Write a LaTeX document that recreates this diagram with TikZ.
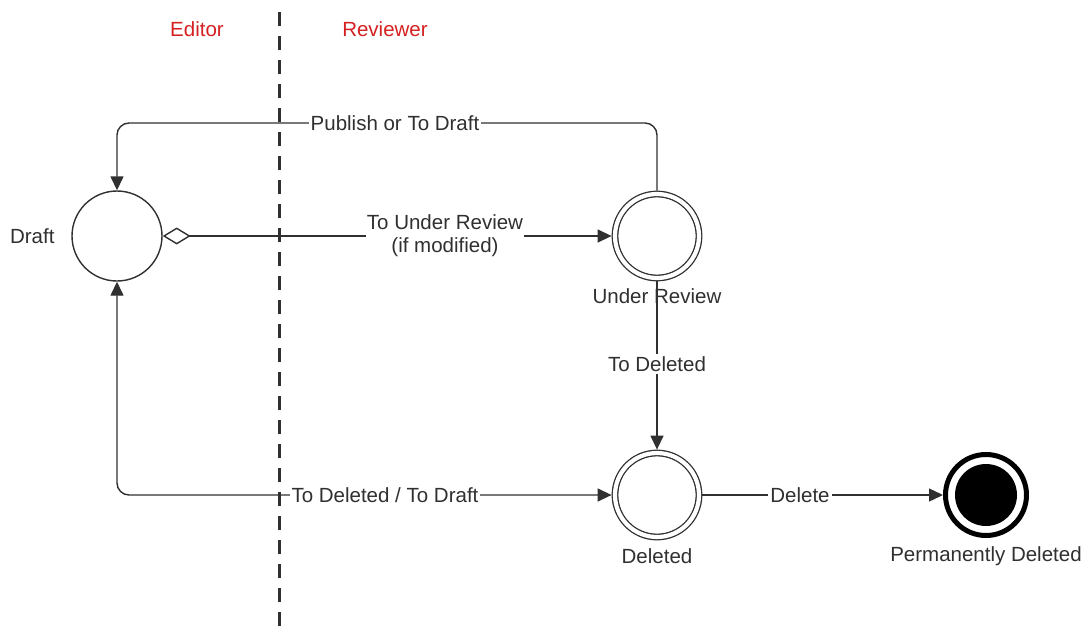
\documentclass[tikz,border=0pt]{standalone}
\usepackage{fontspec}
\setmainfont{Liberation Sans}
\usetikzlibrary{arrows.meta}
\definecolor{ink}{HTML}{303030}
\definecolor{lane}{HTML}{D42020}
\tikzset{
  every node/.style={font=\fontsize{20.5}{24}\selectfont, text=ink},
  state/.style={circle, draw=ink, line width=1.4pt, minimum size=90pt, inner sep=0pt, outer sep=0.7pt},
  dstate/.style={circle, draw=ink, line width=1.3pt, double, double distance=4.2pt, minimum size=84pt, inner sep=0pt, outer sep=3.4pt},
  tip/.style={Triangle[length=14pt,width=13pt]},
  edge/.style={draw=ink, line width=1.4pt, -{Triangle[length=14pt,width=13pt]}},
  lbl/.style={fill=white, inner sep=2pt},
  lanelbl/.style={text=lane},
  lanesep/.style={draw=ink, line width=3pt, dash pattern=on 14pt off 10pt}
}
\begin{document}
\begin{tikzpicture}[x=1pt,y=-1pt]
\useasboundingbox (0,0) rectangle (1088,627);
% swimlane
\coordinate (lt) at (279,12);
\coordinate (lb) at (279,627);
\draw[lanesep] (lt) -- (lb);
\node[lanelbl] (editor) at (197,29) {Editor};
\node[lanelbl] (reviewer) at (385,29) {Reviewer};
% states
\node[state] (draft) at (117,236) {};
\node[anchor=east] (draftl) at (58,236) {Draft};
\node[dstate] (ur) at (657,236) {};
\node (url) at (657,296) {Under Review};
\node[dstate] (del) at (657,495) {};
\node (dell) at (657,556) {Deleted};
\node[circle, draw=black, line width=5pt, minimum size=81pt, inner sep=0pt, outer sep=2.5pt] (perm) at (986,495) {};
\node[circle, fill=black, minimum size=62pt, inner sep=0pt] (permin) at (perm.center) {};
\node (perml) at (986,556) {Permanently Deleted};
% edges
\draw[edge, rounded corners=12pt] (ur.north) -- (ur.north |- 0,123) -- (draft.north |- 0,123) -- (draft.north);
\node[lbl] (l1) at (395,123) {Publish or To Draft};
\draw[edge, {Diamond[open,length=28pt,width=17pt,line width=1.4pt]}-{Triangle[length=14pt,width=13pt]}] (draft.east) -- (ur.west);
\node[lbl, align=center, inner sep=1pt] (l2) at (445,236) {To Under Review\\[-1pt](if modified)};
\draw[edge] (ur.south) -- (del.north);
\node[lbl] (l3) at (657,364) {To Deleted};
\draw[edge, {Triangle[length=14pt,width=13pt]}-{Triangle[length=14pt,width=13pt]}, rounded corners=12pt] (draft.south) -- (draft.south |- 0,495) -- (del.west);
\node[lbl] (l4) at (385,495) {To Deleted / To Draft};
\draw[edge] (del.east) -- (perm.west);
\node[lbl] (l5) at (800,495) {Delete};
\end{tikzpicture}
\end{document}
